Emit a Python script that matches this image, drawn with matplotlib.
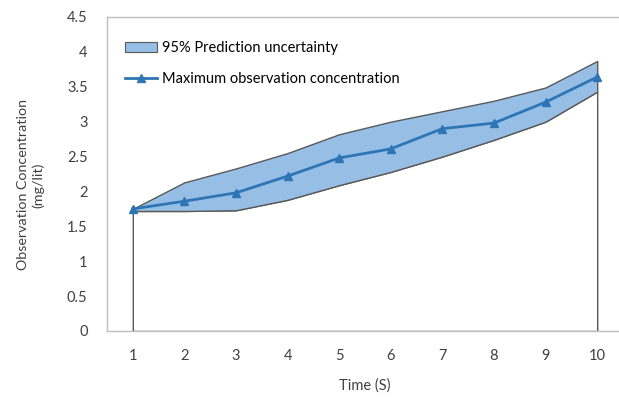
import matplotlib
matplotlib.use("Agg")
import matplotlib.pyplot as plt
from matplotlib.patches import Patch
from matplotlib.lines import Line2D

plt.rcParams['font.family'] = ['Lato', 'DejaVu Sans']

# data
time = [1, 2, 3, 4, 5, 6, 7, 8, 9, 10]
max_obs = [1.75, 1.86, 1.98, 2.22, 2.48, 2.61, 2.90, 2.98, 3.28, 3.64]
upper = [1.75, 2.13, 2.33, 2.55, 2.82, 3.00, 3.15, 3.30, 3.49, 3.87]
lower = [1.72, 1.72, 1.73, 1.88, 2.09, 2.28, 2.50, 2.74, 3.00, 3.43]

band_color = '#97bfe5'
line_color = '#2e75b6'
edge_color = '#595959'

fig = plt.figure(figsize=(6.19, 3.98), dpi=100)
ax = fig.add_axes([107 / 619, 1 - 331 / 398, 516 / 619, 314 / 398])

# lower area (white, outlined) and prediction band on top of it
ax.fill_between(time, 0, lower, facecolor='white', edgecolor=edge_color, linewidth=1.0, zorder=2)
ax.fill_between(time, lower, upper, facecolor=band_color, edgecolor=edge_color, linewidth=1.0, zorder=3)
ax.plot(time, max_obs, color=line_color, linewidth=2, marker='^', markersize=6, zorder=4)

ax.set_xlim(0.5, 10.5)
ax.set_ylim(0, 4.5)
ax.set_yticks([0, 0.5, 1, 1.5, 2, 2.5, 3, 3.5, 4, 4.5])
ax.set_yticklabels(['0', '0.5', '1', '1.5', '2', '2.5', '3', '3.5', '4', '4.5'])
ax.set_xticks(time)
ax.tick_params(length=0, labelsize=10.5, colors='#404040')
ax.tick_params(axis='x', pad=13)
ax.tick_params(axis='y', pad=14)
for s in ax.spines.values():
    s.set_color('#bfbfbf')
    s.set_linewidth(1.0)

ax.set_xlabel('Time (S)', fontsize=10.5, color='#404040', labelpad=11)
ax.set_ylabel('Observation Concentration\n(mg/lit)', fontsize=10.3, color='#404040')
ax.yaxis.set_label_coords(-0.122, 0.465)

handles = [
    Patch(facecolor=band_color, edgecolor=edge_color, linewidth=0.8),
    Line2D([0], [0], color=line_color, linewidth=2, marker='^', markersize=6),
]
ax.legend(handles, ['95% Prediction uncertainty', 'Maximum observation concentration'],
          loc='upper left', bbox_to_anchor=(0.01, 0.965), frameon=False, fontsize=10.5,
          handlelength=2.2, handletextpad=0.3, labelspacing=1.15)

fig.savefig('out.png', dpi=100)
